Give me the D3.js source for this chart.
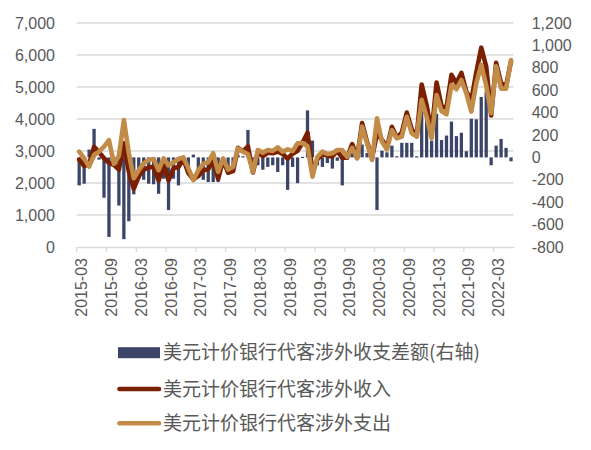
<!DOCTYPE html>
<html><head><meta charset="utf-8">
<script src="https://cdn.jsdelivr.net/npm/d3@7"></script>
<style>body{margin:0;background:#fff;} svg{display:block;}</style>
</head><body>
<svg id="chart" width="591" height="450"></svg>
<script>
const months = [
"2015-03","2015-04","2015-05","2015-06","2015-07","2015-08","2015-09","2015-10","2015-11","2015-12",
"2016-01","2016-02","2016-03","2016-04","2016-05","2016-06","2016-07","2016-08","2016-09","2016-10","2016-11","2016-12",
"2017-01","2017-02","2017-03","2017-04","2017-05","2017-06","2017-07","2017-08","2017-09","2017-10","2017-11","2017-12",
"2018-01","2018-02","2018-03","2018-04","2018-05","2018-06","2018-07","2018-08","2018-09","2018-10","2018-11","2018-12",
"2019-01","2019-02","2019-03","2019-04","2019-05","2019-06","2019-07","2019-08","2019-09","2019-10","2019-11","2019-12",
"2020-01","2020-02","2020-03","2020-04","2020-05","2020-06","2020-07","2020-08","2020-09","2020-10","2020-11","2020-12",
"2021-01","2021-02","2021-03","2021-04","2021-05","2021-06","2021-07","2021-08","2021-09","2021-10","2021-11","2021-12",
"2022-01","2022-02","2022-03","2022-04","2022-05","2022-06"];

// 美元计价银行代客涉外收入 (left axis)
const income = [
2730,2535,2580,3130,2960,2775,2630,2570,2420,3240,
2360,1820,2210,2415,2485,2510,2075,2580,2080,2460,2500,2740,
2310,2115,2220,2400,2430,2710,2130,2720,2320,2370,3100,2990,
3145,2330,2960,2840,2945,2930,2985,2910,2760,2915,3010,3255,
3570,2350,2750,2895,2855,2830,3000,2780,2800,3215,2785,3875,
3280,2780,3550,3350,3095,3755,3410,3580,4200,3680,3460,5080,
4430,3550,5140,4405,4345,5380,5120,5440,4855,4575,5455,6230,
5640,4110,5755,5115,5035,5805];

// 美元计价银行代客涉外支出 (left axis)
const expenditure = [
2980,2770,2510,2875,2980,3135,3340,2600,2850,3970,
2930,2150,2400,2615,2720,2750,2400,2770,2550,2650,2750,2800,
2460,2090,2400,2600,2650,2930,2350,2770,2420,2500,3080,2980,
2900,2350,3030,2950,3030,3000,3115,2980,3050,3000,3240,3250,
3150,2200,2820,2980,2905,2930,3030,3030,2820,3100,2770,3760,
3240,2720,4020,3290,3050,3650,3400,3450,4070,3550,3450,4600,
4070,3400,4750,4250,4150,5060,4930,5220,4800,4230,5115,5690,
5050,4180,5650,4950,4950,5840];

// 美元计价银行代客涉外收支差额 (right axis)
const balance = [
-250,-235,70,255,-20,-360,-710,-30,-430,-730,
-570,-330,-190,-200,-235,-240,-325,-190,-470,-190,-250,-60,
-150,25,-180,-200,-220,-220,-220,-50,-100,-130,20,10,
245,-20,-70,-110,-85,-70,-130,-70,-290,-85,-230,5,
420,150,-70,-85,-50,-100,-30,-250,-20,115,15,115,
40,60,-470,60,45,105,10,130,130,130,10,480,
360,150,390,155,195,320,190,220,55,345,340,540,
590,-70,105,165,85,-35];

const leftTicks = [0,1000,2000,3000,4000,5000,6000,7000];
const rightTicks = [-800,-600,-400,-200,0,200,400,600,800,1000,1200];
const xTickLabels = ["2015-03","2015-09","2016-03","2016-09","2017-03","2017-09","2018-03","2018-09",
  "2019-03","2019-09","2020-03","2020-09","2021-03","2021-09","2022-03"];
const seriesNames = ["美元计价银行代客涉外收支差额(右轴)","美元计价银行代客涉外收入","美元计价银行代客涉外支出"];

const COL_BAR = "#3C4568", COL_IN = "#7A1F00", COL_OUT = "#C28C48";
const GRID = "#D9D9D9", TXT = "#595959";
const FONT = "'Liberation Sans', Arial, sans-serif";
const CJK = "'Noto Sans CJK SC', sans-serif";

const svg = d3.select("#chart");
const L = 76.7, R = 513.5, T = 23, B = 247;
const pad = 0.34;
const x = d3.scaleBand().domain(months).range([L, R]).paddingInner(pad).paddingOuter(pad/2);
const step = x.step(), bw = x.bandwidth();
const yL = d3.scaleLinear().domain([0,7000]).range([B,T]);
const yR = d3.scaleLinear().domain([-800,1200]).range([B,T]);

// gridlines
svg.append("g").selectAll("line").data(leftTicks.filter(d=>d>0)).join("line")
  .attr("x1",L).attr("x2",R).attr("y1",d=>yL(d)).attr("y2",d=>yL(d))
  .attr("stroke",GRID).attr("stroke-width",1.3);

// bars
svg.append("g").selectAll("rect").data(months).join("rect")
  .attr("x",d=>x(d)).attr("width",bw)
  .attr("y",(d,i)=>Math.min(yR(balance[i]),yR(0)))
  .attr("height",(d,i)=>Math.max(1.2,Math.abs(yR(balance[i])-yR(0))))
  .attr("fill",COL_BAR);

// lines
const lineGen = arr => d3.line().x((d,i)=>x(months[i])+bw/2).y(d=>yL(d)).curve(d3.curveLinear)(arr);
svg.append("path").attr("d",lineGen(income)).attr("fill","none").attr("stroke",COL_IN)
  .attr("stroke-width",4.6).attr("stroke-linejoin","round").attr("stroke-linecap","round");
svg.append("path").attr("d",lineGen(expenditure)).attr("fill","none").attr("stroke",COL_OUT)
  .attr("stroke-width",4.6).attr("stroke-linejoin","round").attr("stroke-linecap","round");

// left axis
const ax1 = svg.append("g").attr("transform",`translate(${L},0)`)
  .call(d3.axisLeft(yL).tickValues(leftTicks).tickFormat(d3.format(",")).tickSize(0).tickPadding(21.7));
ax1.select(".domain").remove();
ax1.selectAll("text").attr("fill",TXT).style("font-family",FONT).style("font-size","16px");

// right axis
const ax2 = svg.append("g").attr("transform",`translate(${R},0)`)
  .call(d3.axisRight(yR).tickValues(rightTicks).tickFormat(d=>d3.format(",")(d).replace("\u2212","-")).tickSize(0).tickPadding(18.2));
ax2.select(".domain").remove();
ax2.selectAll("text").attr("fill",TXT).style("font-family",FONT).style("font-size","16px");

// bottom axis: labels
const ax3 = svg.append("g").attr("transform",`translate(0,${B})`)
  .call(d3.axisBottom(x).tickValues(xTickLabels).tickSize(0).tickSizeOuter(0));
ax3.select(".domain").attr("stroke",GRID).attr("stroke-width",1.3);
ax3.selectAll("text").attr("transform","rotate(-90)").attr("x",-11).attr("y",2.5).attr("dy","0.35em")
  .style("text-anchor","end").attr("fill",TXT).style("font-family",FONT).style("font-size","16px");

// bottom axis: tick marks at category boundaries
const ax4 = svg.append("g").attr("transform",`translate(${-step/2},${B})`)
  .call(d3.axisBottom(x).tickValues(xTickLabels).tickSize(5).tickSizeOuter(0).tickFormat(""));
ax4.select(".domain").remove();
ax4.selectAll("line").attr("stroke",GRID).attr("stroke-width",1.3);

// legend
const lg = svg.append("g");
const rows = [352.7, 389, 423.3];
lg.append("rect").attr("x",118).attr("y",rows[0]-5.5).attr("width",42).attr("height",11).attr("fill",COL_BAR);
[COL_IN, COL_OUT].forEach((c,k)=>{
  lg.append("line").attr("x1",119.5).attr("x2",159).attr("y1",rows[k+1]).attr("y2",rows[k+1])
    .attr("stroke",c).attr("stroke-width",4.6).attr("stroke-linecap","round");
});
lg.selectAll("text").data(seriesNames).join("text")
  .attr("x",163).attr("y",(d,i)=>rows[i]).attr("dy","0.35em")
  .attr("fill",TXT).style("font-family",CJK).style("font-size","19px").text(d=>d);
</script>
</body></html>
